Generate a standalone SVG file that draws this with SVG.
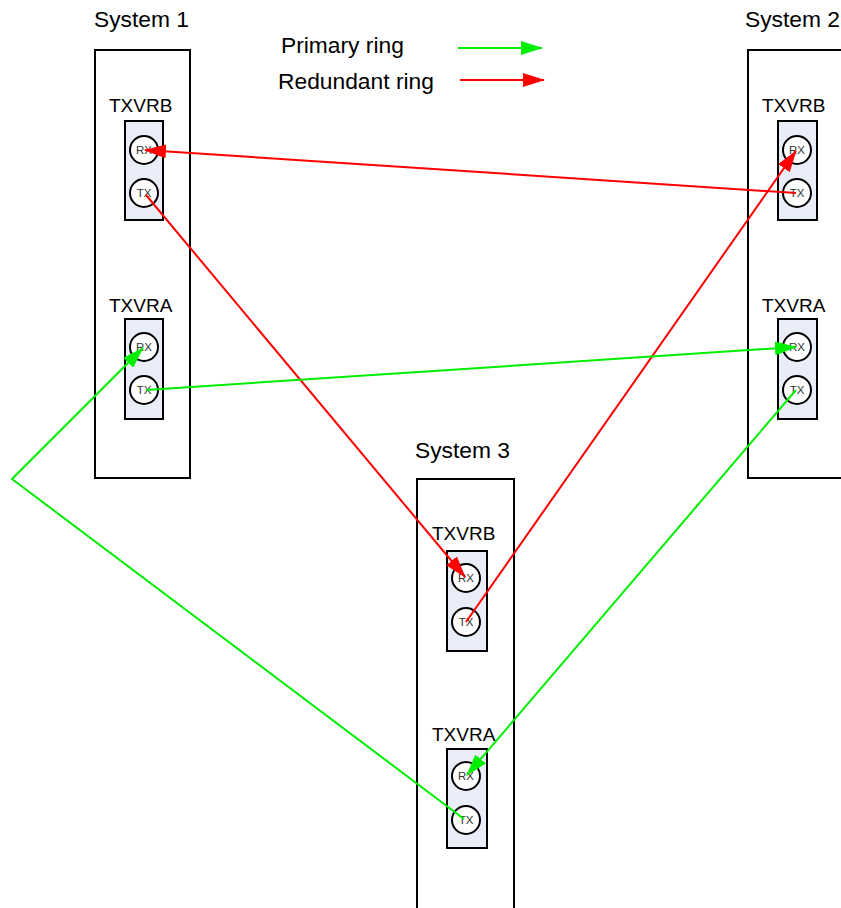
<svg xmlns="http://www.w3.org/2000/svg" width="841" height="908" viewBox="0 0 841 908">
<style>
.sys{fill:#fff;stroke:#000;stroke-width:2}
.mod{fill:#e8edf7;stroke:#000;stroke-width:2}
.port{fill:#fff;stroke:#000;stroke-width:2}
.t{font-family:"Liberation Sans",Arial,sans-serif;fill:#000}
.big{font-size:22.8px}
.lbl{font-size:19px}
.pt{font-size:11.5px;fill:#333;text-anchor:middle}
.g{stroke:#00ee00;stroke-width:2;fill:none}
.r{stroke:#ff0000;stroke-width:2;fill:none}
</style>
<defs>
<marker id="ag" markerUnits="userSpaceOnUse" markerWidth="22" markerHeight="14" refX="21" refY="7" orient="auto"><path d="M0,0 L22,7 L0,14 Z" fill="#00ee00"/></marker>
<marker id="ar" markerUnits="userSpaceOnUse" markerWidth="22" markerHeight="14" refX="21" refY="7" orient="auto"><path d="M0,0 L22,7 L0,14 Z" fill="#ff0000"/></marker>
</defs>
<rect width="841" height="908" fill="#fff"/>
<g id="legend">
<text class="t big" x="281" y="53">Primary ring</text>
<text class="t big" x="278" y="89">Redundant ring</text>
<line class="g" x1="458" y1="48" x2="542" y2="48" marker-end="url(#ag)"/>
<line class="r" x1="460" y1="80" x2="544" y2="80" marker-end="url(#ar)"/>
</g>
<g id="system1">
<text class="t big" x="94" y="27">System 1</text>
<rect class="sys" x="95" y="50" width="95" height="428"/>
<g id="s1-txvrb">
<text class="t lbl" x="109" y="112">TXVRB</text>
<rect class="mod" x="125" y="121" width="38" height="99"/>
<circle class="port" cx="144" cy="150" r="14"/><text class="t pt" x="144" y="154">RX</text>
<circle class="port" cx="144" cy="193" r="14"/><text class="t pt" x="144" y="197">TX</text>
</g>
<g id="s1-txvra">
<text class="t lbl" x="109" y="312">TXVRA</text>
<rect class="mod" x="125" y="319" width="38" height="100"/>
<circle class="port" cx="144" cy="347" r="14"/><text class="t pt" x="144" y="351">RX</text>
<circle class="port" cx="144" cy="390" r="14"/><text class="t pt" x="144" y="394">TX</text>
</g>
</g>
<g id="system2">
<text class="t big" x="745" y="27">System 2</text>
<rect class="sys" x="748" y="50" width="100" height="428"/>
<g id="s2-txvrb">
<text class="t lbl" x="762" y="112">TXVRB</text>
<rect class="mod" x="778" y="121" width="39" height="99"/>
<circle class="port" cx="797" cy="150" r="14"/><text class="t pt" x="797" y="154">RX</text>
<circle class="port" cx="797" cy="193" r="14"/><text class="t pt" x="797" y="197">TX</text>
</g>
<g id="s2-txvra">
<text class="t lbl" x="762" y="312">TXVRA</text>
<rect class="mod" x="778" y="319" width="39" height="100"/>
<circle class="port" cx="797" cy="347" r="14"/><text class="t pt" x="797" y="351">RX</text>
<circle class="port" cx="797" cy="390" r="14"/><text class="t pt" x="797" y="394">TX</text>
</g>
</g>
<g id="system3">
<text class="t big" x="415" y="458">System 3</text>
<rect class="sys" x="417" y="479" width="97" height="440"/>
<g id="s3-txvrb">
<text class="t lbl" x="432" y="540">TXVRB</text>
<rect class="mod" x="447" y="551" width="40" height="100"/>
<circle class="port" cx="466" cy="578" r="14"/><text class="t pt" x="466" y="582">RX</text>
<circle class="port" cx="466" cy="622" r="14"/><text class="t pt" x="466" y="626">TX</text>
</g>
<g id="s3-txvra">
<text class="t lbl" x="432" y="741">TXVRA</text>
<rect class="mod" x="447" y="749" width="40" height="99"/>
<circle class="port" cx="466" cy="776" r="14"/><text class="t pt" x="466" y="780">RX</text>
<circle class="port" cx="466" cy="820" r="14"/><text class="t pt" x="466" y="824">TX</text>
</g>
</g>
<g id="connectors">
<line class="r" x1="796" y1="193" x2="145" y2="150" marker-end="url(#ar)"/>
<line class="r" x1="146" y1="195" x2="465" y2="577" marker-end="url(#ar)"/>
<line class="r" x1="466" y1="622" x2="796" y2="151" marker-end="url(#ar)"/>
<line class="g" x1="146" y1="390" x2="796" y2="347" marker-end="url(#ag)"/>
<line class="g" x1="796" y1="390" x2="467" y2="775" marker-end="url(#ag)"/>
<polyline class="g" points="464,819 12,479 143,348" marker-end="url(#ag)"/>
</g>
</svg>
